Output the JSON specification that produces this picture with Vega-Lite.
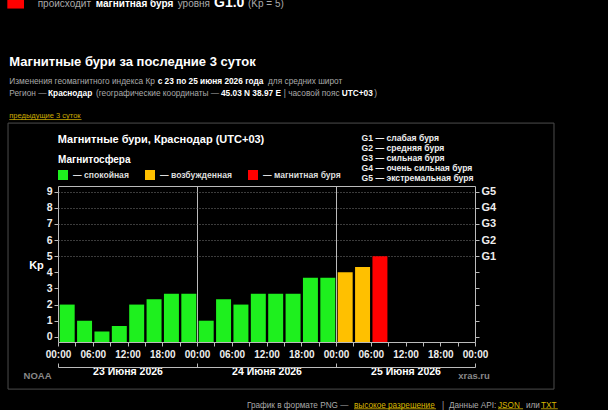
{
  "$schema": "https://vega.github.io/schema/vega-lite/v6.json",
  "width": 417,
  "height": 156,
  "autosize": {"type": "none"},
  "padding": {"left": 58, "top": 186, "right": 133, "bottom": 68},
  "background": "#000000",
  "config": {
    "font": "Liberation Sans",
    "view": {"stroke": "#bbbbbb", "strokeWidth": 1},
    "text": {"font": "Liberation Sans"}
  },
  "data": {"values": [{}]},
  "resolve": {"axis": {"x": "independent", "y": "independent"}},
  "layer": [
    {
      "mark": {"type": "rect", "fill": "transparent", "stroke": "#4c4c4c", "strokeWidth": 1},
      "encoding": {
        "x": {"datum": -8.63, "type": "quantitative", "axis": null},
        "x2": {"datum": 85.64},
        "y": {"datum": 13.25, "type": "quantitative", "axis": null},
        "y2": {"datum": -3.24}
      }
    },
    {
      "data": {"values": [
        {"hour": 0, "kp": 2, "state": "спокойная"},
        {"hour": 3, "kp": 1, "state": "спокойная"},
        {"hour": 6, "kp": 0.33, "state": "спокойная"},
        {"hour": 9, "kp": 0.67, "state": "спокойная"},
        {"hour": 12, "kp": 2, "state": "спокойная"},
        {"hour": 15, "kp": 2.33, "state": "спокойная"},
        {"hour": 18, "kp": 2.67, "state": "спокойная"},
        {"hour": 21, "kp": 2.67, "state": "спокойная"},
        {"hour": 24, "kp": 1, "state": "спокойная"},
        {"hour": 27, "kp": 2.33, "state": "спокойная"},
        {"hour": 30, "kp": 2, "state": "спокойная"},
        {"hour": 33, "kp": 2.67, "state": "спокойная"},
        {"hour": 36, "kp": 2.67, "state": "спокойная"},
        {"hour": 39, "kp": 2.67, "state": "спокойная"},
        {"hour": 42, "kp": 3.67, "state": "спокойная"},
        {"hour": 45, "kp": 3.67, "state": "спокойная"},
        {"hour": 48, "kp": 4, "state": "возбужденная"},
        {"hour": 51, "kp": 4.33, "state": "возбужденная"},
        {"hour": 54, "kp": 5, "state": "магнитная буря"}
      ]},
      "mark": {"type": "bar", "binSpacing": 2.4},
      "encoding": {
        "x": {
          "field": "hour", "type": "quantitative",
          "bin": {"step": 3, "extent": [0, 72]},
          "scale": {"domain": [0, 72], "nice": false, "zero": false},
          "axis": {
            "orient": "bottom",
            "values": [0,3,6,9,12,15,18,21,24,27,30,33,36,39,42,45,48,51,54,57,60,63,66,69,72],
            "labelExpr": "datum.value % 6 == 0 ? (((datum.value % 24) < 10 ? '0' : '') + (datum.value % 24) + ':00') : ''",
            "domain": false,
            "tickSize": 4, "tickColor": "#bbbbbb",
            "labelFontSize": 10, "labelFontWeight": "bold", "labelColor": "#eeeeee",
            "labelPadding": 3, "labelOverlap": false, "labelFlush": false, "labelBound": false,
            "grid": true, "gridColor": "#bbbbbb", "gridWidth": 1,
            "gridOpacity": {"condition": {"test": "datum.value == 24 || datum.value == 48", "value": 1}, "value": 0},
            "title": "NOAA", "titleX": -21, "titleY": 33, "titleAlign": "center", "titleBaseline": "middle",
            "titleColor": "#888888", "titleFontSize": 9.5, "titleFontWeight": "bold"
          }
        },
        "y": {
          "field": "kp", "type": "quantitative",
          "scale": {"domain": [-0.32, 9.35], "nice": false, "zero": false},
          "axis": {
            "orient": "left",
            "values": [0,1,2,3,4,5,6,7,8,9],
            "domain": false,
            "tickSize": 4, "tickColor": "#bbbbbb",
            "labelFontSize": 10.5, "labelFontWeight": "bold", "labelColor": "#eeeeee", "labelPadding": 2,
            "grid": true, "gridColor": "#777777", "gridDash": [1, 2],
            "gridOpacity": {"condition": {"test": "datum.value >= 5", "value": 1}, "value": 0},
            "title": "Kp", "titleAngle": 0, "titleX": -22, "titleY": 79, "titleAlign": "center", "titleBaseline": "middle",
            "titleFontSize": 11, "titleFontWeight": "bold", "titleColor": "#ffffff"
          }
        },
        "y2": {"datum": -0.32},
        "color": {
          "field": "state", "type": "nominal",
          "scale": {"domain": ["спокойная", "возбужденная", "магнитная буря"], "range": ["#1ef01e", "#ffc000", "#ff0000"]},
          "legend": {
            "orient": "none", "legendX": 0, "legendY": -31.5, "direction": "horizontal",
            "title": "Магнитосфера", "titleFontSize": 10, "titleFontWeight": "bold", "titleColor": "#ffffff", "titlePadding": 5.5,
            "symbolType": "square", "symbolSize": 100, "symbolStrokeWidth": 0, "symbolOpacity": 1,
            "labelExpr": "'— ' + datum.label", "labelFontSize": 8.6, "labelFontWeight": "bold", "labelColor": "#dddddd",
            "labelOffset": 5, "columnPadding": 16
          }
        }
      }
    },
    {
      "data": {"values": [
        {"kp": 5, "label": "G1 — слабая буря"},
        {"kp": 6, "label": "G2 — средняя буря"},
        {"kp": 7, "label": "G3 — сильная буря"},
        {"kp": 8, "label": "G4 — очень сильная буря"},
        {"kp": 9, "label": "G5 — экстремальная буря"}
      ]},
      "mark": {"type": "point", "opacity": 0},
      "encoding": {
        "x": {
          "datum": 36, "type": "quantitative",
          "axis": {
            "orient": "bottom", "offset": 25,
            "values": [0, 24, 48, 72],
            "domain": true, "domainColor": "#bbbbbb",
            "tickSize": -4, "tickColor": "#bbbbbb",
            "labelExpr": "datum.value < 72 ? (23 + datum.value / 24) + ' Июня 2026' : ''",
            "labelOffset": 69.5, "labelPadding": 3,
            "labelFontSize": 10.5, "labelFontWeight": "bold", "labelColor": "#ffffff",
            "labelOverlap": false, "labelFlush": false, "labelBound": false,
            "grid": false,
            "title": "xras.ru", "titleX": 415.5, "titleY": 8, "titleAlign": "center", "titleBaseline": "middle",
            "titleColor": "#888888", "titleFontSize": 9.5, "titleFontWeight": "bold"
          }
        },
        "y": {
          "field": "kp", "type": "quantitative",
          "axis": {
            "orient": "right",
            "values": [0,1,2,3,4,5,6,7,8,9],
            "labelExpr": "datum.value >= 5 ? 'G' + (datum.value - 4) : ''",
            "domain": false, "grid": false,
            "tickSize": 4, "tickColor": "#bbbbbb",
            "labelFontSize": 11, "labelFontWeight": "bold", "labelColor": "#eeeeee", "labelPadding": 2,
            "title": null
          }
        },
        "shape": {
          "field": "label", "type": "nominal",
          "legend": {
            "orient": "none", "legendX": 295, "legendY": -52, "direction": "vertical",
            "title": null, "symbolSize": 1, "symbolOpacity": 0, "labelOffset": 0,
            "labelFontSize": 8.6, "labelFontWeight": "bold", "labelColor": "#eeeeee", "rowPadding": 1
          }
        }
      }
    },
    {
      "mark": {"type": "rect", "fill": "#ff0000"},
      "encoding": {
        "x": {"datum": -8.75, "type": "quantitative", "axis": null},
        "x2": {"datum": -5.87},
        "y": {"datum": 22, "type": "quantitative", "axis": null},
        "y2": {"datum": 20.35}
      }
    },
    {
      "mark": {"type": "text", "align": "left", "baseline": "alphabetic", "fontSize": 10, "color": "#aaaaaa"},
      "encoding": {"x": {"datum": -3.51, "type": "quantitative", "axis": null}, "y": {"datum": 20.46, "type": "quantitative", "axis": null}, "text": {"value": "происходит"}}
    },
    {
      "mark": {"type": "text", "align": "left", "baseline": "alphabetic", "fontSize": 10, "fontWeight": "bold", "color": "#ffffff"},
      "encoding": {"x": {"datum": 6.51, "type": "quantitative", "axis": null}, "y": {"datum": 20.46, "type": "quantitative", "axis": null}, "text": {"value": "магнитная буря"}}
    },
    {
      "mark": {"type": "text", "align": "left", "baseline": "alphabetic", "fontSize": 10, "color": "#aaaaaa"},
      "encoding": {"x": {"datum": 20.67, "type": "quantitative", "axis": null}, "y": {"datum": 20.46, "type": "quantitative", "axis": null}, "text": {"value": "уровня"}}
    },
    {
      "mark": {"type": "text", "align": "left", "baseline": "alphabetic", "fontSize": 14, "fontWeight": "bold", "color": "#ffffff"},
      "encoding": {"x": {"datum": 26.94, "type": "quantitative", "axis": null}, "y": {"datum": 20.46, "type": "quantitative", "axis": null}, "text": {"value": "G1.0"}}
    },
    {
      "mark": {"type": "text", "align": "left", "baseline": "alphabetic", "fontSize": 10, "color": "#aaaaaa"},
      "encoding": {"x": {"datum": 32.81, "type": "quantitative", "axis": null}, "y": {"datum": 20.46, "type": "quantitative", "axis": null}, "text": {"value": "(Kp = 5)"}}
    },
    {
      "mark": {"type": "text", "align": "left", "baseline": "middle", "fontSize": 13, "fontWeight": "bold", "color": "#ffffff"},
      "encoding": {"x": {"datum": -8.41, "type": "quantitative", "axis": null}, "y": {"datum": 17.02, "type": "quantitative", "axis": null}, "text": {"value": "Магнитные бури за последние 3 суток"}}
    },
    {
      "mark": {"type": "text", "align": "left", "baseline": "middle", "fontSize": 8.3, "color": "#aaaaaa"},
      "encoding": {"x": {"datum": -8.41, "type": "quantitative", "axis": null}, "y": {"datum": 15.815, "type": "quantitative", "axis": null}, "text": {"value": "Изменения геомагнитного индекса Кр"}}
    },
    {
      "mark": {"type": "text", "align": "left", "baseline": "middle", "fontSize": 8.3, "fontWeight": "bold", "color": "#ffffff"},
      "encoding": {"x": {"datum": 17.21, "type": "quantitative", "axis": null}, "y": {"datum": 15.815, "type": "quantitative", "axis": null}, "text": {"value": "с 23 по 25 июня 2026 года"}}
    },
    {
      "mark": {"type": "text", "align": "left", "baseline": "middle", "fontSize": 8.3, "color": "#aaaaaa"},
      "encoding": {"x": {"datum": 36.26, "type": "quantitative", "axis": null}, "y": {"datum": 15.815, "type": "quantitative", "axis": null}, "text": {"value": "для средних широт"}}
    },
    {
      "mark": {"type": "text", "align": "left", "baseline": "middle", "fontSize": 8.3, "color": "#aaaaaa"},
      "encoding": {"x": {"datum": -8.41, "type": "quantitative", "axis": null}, "y": {"datum": 15.034, "type": "quantitative", "axis": null}, "text": {"value": "Регион —"}}
    },
    {
      "mark": {"type": "text", "align": "left", "baseline": "middle", "fontSize": 8.3, "fontWeight": "bold", "color": "#ffffff"},
      "encoding": {"x": {"datum": -1.727, "type": "quantitative", "axis": null}, "y": {"datum": 15.034, "type": "quantitative", "axis": null}, "text": {"value": "Краснодар"}}
    },
    {
      "mark": {"type": "text", "align": "left", "baseline": "middle", "fontSize": 8.3, "color": "#aaaaaa"},
      "encoding": {"x": {"datum": 6.561, "type": "quantitative", "axis": null}, "y": {"datum": 15.034, "type": "quantitative", "axis": null}, "text": {"value": "(географические координаты —"}}
    },
    {
      "mark": {"type": "text", "align": "left", "baseline": "middle", "fontSize": 8.3, "fontWeight": "bold", "color": "#ffffff"},
      "encoding": {"x": {"datum": 28.14, "type": "quantitative", "axis": null}, "y": {"datum": 15.034, "type": "quantitative", "axis": null}, "text": {"value": "45.03 N 38.97 E"}}
    },
    {
      "mark": {"type": "text", "align": "left", "baseline": "middle", "fontSize": 8.3, "color": "#aaaaaa"},
      "encoding": {"x": {"datum": 38.97, "type": "quantitative", "axis": null}, "y": {"datum": 15.034, "type": "quantitative", "axis": null}, "text": {"value": "| часовой пояс"}}
    },
    {
      "mark": {"type": "text", "align": "left", "baseline": "middle", "fontSize": 8.3, "fontWeight": "bold", "color": "#ffffff"},
      "encoding": {"x": {"datum": 48.98, "type": "quantitative", "axis": null}, "y": {"datum": 15.034, "type": "quantitative", "axis": null}, "text": {"value": "UTC+03"}}
    },
    {
      "mark": {"type": "text", "align": "left", "baseline": "middle", "fontSize": 8.3, "color": "#aaaaaa"},
      "encoding": {"x": {"datum": 54.6, "type": "quantitative", "axis": null}, "y": {"datum": 15.034, "type": "quantitative", "axis": null}, "text": {"value": ")"}}
    },
    {
      "mark": {"type": "text", "align": "left", "baseline": "middle", "fontSize": 7.5, "color": "#c9a900"},
      "encoding": {"x": {"datum": -8.41, "type": "quantitative", "axis": null}, "y": {"datum": 13.707, "type": "quantitative", "axis": null}, "text": {"value": "предыдущие 3 суток"}}
    },
    {
      "mark": {"type": "rule", "color": "#c9a900", "strokeWidth": 0.8},
      "encoding": {"x": {"datum": -8.41, "type": "quantitative", "axis": null}, "x2": {"datum": 4.07}, "y": {"datum": 13.47, "type": "quantitative", "axis": null}}
    },
    {
      "mark": {"type": "text", "align": "left", "baseline": "middle", "fontSize": 11, "fontWeight": "bold", "color": "#ffffff"},
      "encoding": {"x": {"datum": -0.05, "type": "quantitative", "axis": null}, "y": {"datum": 12.2, "type": "quantitative", "axis": null}, "text": {"value": "Магнитные бури, Краснодар (UTC+03)"}}
    },
    {
      "mark": {"type": "text", "align": "left", "baseline": "middle", "fontSize": 8.2, "color": "#aaaaaa"},
      "encoding": {"x": {"datum": 32.63, "type": "quantitative", "axis": null}, "y": {"datum": -4.277, "type": "quantitative", "axis": null}, "text": {"value": "График в формате PNG —"}}
    },
    {
      "mark": {"type": "text", "align": "left", "baseline": "middle", "fontSize": 8.2, "color": "#d8b800"},
      "encoding": {"x": {"datum": 51.11, "type": "quantitative", "axis": null}, "y": {"datum": -4.277, "type": "quantitative", "axis": null}, "text": {"value": "высокое разрешение"}}
    },
    {
      "mark": {"type": "rule", "color": "#d8b800", "strokeWidth": 0.8},
      "encoding": {"x": {"datum": 51.11, "type": "quantitative", "axis": null}, "x2": {"datum": 65.27}, "y": {"datum": -4.46, "type": "quantitative", "axis": null}}
    },
    {
      "mark": {"type": "text", "align": "left", "baseline": "middle", "fontSize": 8.2, "color": "#aaaaaa"},
      "encoding": {"x": {"datum": 66.3, "type": "quantitative", "axis": null}, "y": {"datum": -4.277, "type": "quantitative", "axis": null}, "text": {"value": "|"}}
    },
    {
      "mark": {"type": "text", "align": "left", "baseline": "middle", "fontSize": 8.2, "color": "#aaaaaa"},
      "encoding": {"x": {"datum": 67.51, "type": "quantitative", "axis": null}, "y": {"datum": -4.277, "type": "quantitative", "axis": null}, "text": {"value": "Данные API:"}}
    },
    {
      "mark": {"type": "text", "align": "left", "baseline": "middle", "fontSize": 8.2, "color": "#d8b800"},
      "encoding": {"x": {"datum": 75.97, "type": "quantitative", "axis": null}, "y": {"datum": -4.277, "type": "quantitative", "axis": null}, "text": {"value": "JSON"}}
    },
    {
      "mark": {"type": "rule", "color": "#d8b800", "strokeWidth": 0.8},
      "encoding": {"x": {"datum": 75.97, "type": "quantitative", "axis": null}, "x2": {"datum": 80.3}, "y": {"datum": -4.46, "type": "quantitative", "axis": null}}
    },
    {
      "mark": {"type": "text", "align": "left", "baseline": "middle", "fontSize": 8.2, "color": "#aaaaaa"},
      "encoding": {"x": {"datum": 80.8, "type": "quantitative", "axis": null}, "y": {"datum": -4.277, "type": "quantitative", "axis": null}, "text": {"value": "или"}}
    },
    {
      "mark": {"type": "text", "align": "left", "baseline": "middle", "fontSize": 8.2, "color": "#d8b800"},
      "encoding": {"x": {"datum": 83.4, "type": "quantitative", "axis": null}, "y": {"datum": -4.277, "type": "quantitative", "axis": null}, "text": {"value": "TXT"}}
    },
    {
      "mark": {"type": "rule", "color": "#d8b800", "strokeWidth": 0.8},
      "encoding": {"x": {"datum": 83.4, "type": "quantitative", "axis": null}, "x2": {"datum": 86.3}, "y": {"datum": -4.46, "type": "quantitative", "axis": null}}
    }
  ]
}
